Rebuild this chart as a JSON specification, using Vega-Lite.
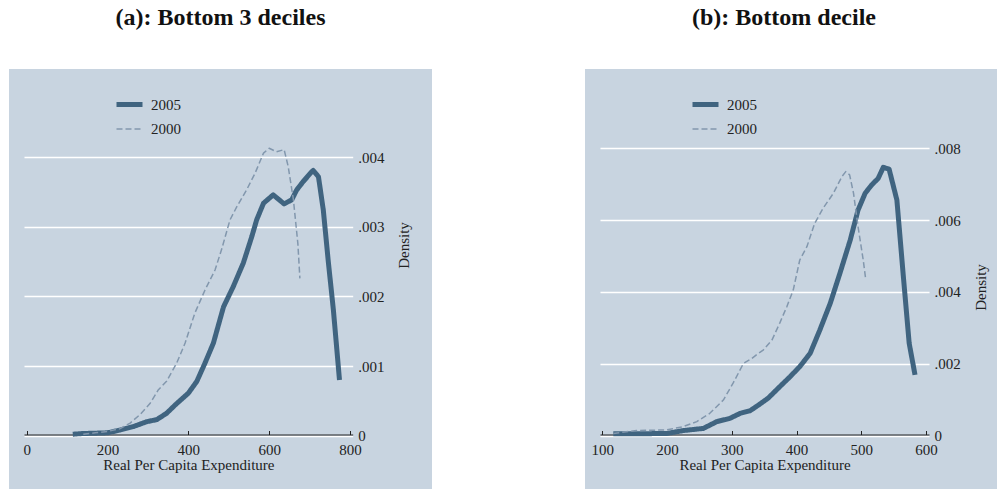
{
  "$schema": "https://vega.github.io/schema/vega-lite/v6.json",
  "padding": {"top": 6, "left": 9, "right": 0, "bottom": 0},
  "background": "white",
  "config": {
    "view": {"fill": "#c8d4e0", "stroke": null},
    "font": "Liberation Serif",
    "axis": {"labelFont": "Liberation Serif", "titleFont": "Liberation Serif", "labelFontSize": 15, "titleFontSize": 15, "titleFontWeight": "normal", "labelColor": "#222222", "titleColor": "#222222"},
    "legend": {"labelFont": "Liberation Serif", "labelFontSize": 15, "labelColor": "#222222"}
  },
  "datasets": {
    "a": [
      {"year": "2005", "x": 114, "density": 0.00002},
      {"year": "2005", "x": 140, "density": 0.00003},
      {"year": "2005", "x": 200, "density": 0.00004},
      {"year": "2005", "x": 231, "density": 0.00008},
      {"year": "2005", "x": 264, "density": 0.00013},
      {"year": "2005", "x": 297, "density": 0.0002},
      {"year": "2005", "x": 322, "density": 0.00023},
      {"year": "2005", "x": 346, "density": 0.00032},
      {"year": "2005", "x": 371, "density": 0.00046},
      {"year": "2005", "x": 400, "density": 0.00061},
      {"year": "2005", "x": 421, "density": 0.00078},
      {"year": "2005", "x": 441, "density": 0.00104},
      {"year": "2005", "x": 462, "density": 0.00133},
      {"year": "2005", "x": 487, "density": 0.00185},
      {"year": "2005", "x": 511, "density": 0.00214},
      {"year": "2005", "x": 536, "density": 0.00248},
      {"year": "2005", "x": 557, "density": 0.00286},
      {"year": "2005", "x": 569, "density": 0.0031},
      {"year": "2005", "x": 586, "density": 0.00334},
      {"year": "2005", "x": 610, "density": 0.00346},
      {"year": "2005", "x": 637, "density": 0.00333},
      {"year": "2005", "x": 656, "density": 0.00339},
      {"year": "2005", "x": 668, "density": 0.00353},
      {"year": "2005", "x": 684, "density": 0.00365},
      {"year": "2005", "x": 705, "density": 0.00379},
      {"year": "2005", "x": 709, "density": 0.00381},
      {"year": "2005", "x": 722, "density": 0.00372},
      {"year": "2005", "x": 734, "density": 0.00324},
      {"year": "2005", "x": 746, "density": 0.00252},
      {"year": "2005", "x": 759, "density": 0.0018},
      {"year": "2005", "x": 774, "density": 0.0008},
      {"year": "2000", "x": 140, "density": 0.00002},
      {"year": "2000", "x": 170, "density": 0.00004},
      {"year": "2000", "x": 200, "density": 0.00006},
      {"year": "2000", "x": 231, "density": 0.0001},
      {"year": "2000", "x": 256, "density": 0.00018},
      {"year": "2000", "x": 280, "density": 0.0003},
      {"year": "2000", "x": 305, "density": 0.00046},
      {"year": "2000", "x": 326, "density": 0.00066},
      {"year": "2000", "x": 346, "density": 0.00078},
      {"year": "2000", "x": 371, "density": 0.00104},
      {"year": "2000", "x": 392, "density": 0.00133},
      {"year": "2000", "x": 416, "density": 0.00176},
      {"year": "2000", "x": 441, "density": 0.00209},
      {"year": "2000", "x": 466, "density": 0.00238},
      {"year": "2000", "x": 482, "density": 0.00267},
      {"year": "2000", "x": 503, "density": 0.0031},
      {"year": "2000", "x": 520, "density": 0.00329},
      {"year": "2000", "x": 544, "density": 0.00353},
      {"year": "2000", "x": 565, "density": 0.00377},
      {"year": "2000", "x": 586, "density": 0.00406},
      {"year": "2000", "x": 600, "density": 0.00413},
      {"year": "2000", "x": 618, "density": 0.00408},
      {"year": "2000", "x": 637, "density": 0.00411},
      {"year": "2000", "x": 647, "density": 0.00387},
      {"year": "2000", "x": 660, "density": 0.00339},
      {"year": "2000", "x": 671, "density": 0.00276},
      {"year": "2000", "x": 676, "density": 0.00226}
    ],
    "b": [
      {"year": "2005", "x": 117, "density": 0.00005},
      {"year": "2005", "x": 153, "density": 0.00005},
      {"year": "2005", "x": 200, "density": 0.00006},
      {"year": "2005", "x": 225, "density": 0.00014},
      {"year": "2005", "x": 256, "density": 0.0002},
      {"year": "2005", "x": 277, "density": 0.00039},
      {"year": "2005", "x": 297, "density": 0.00048},
      {"year": "2005", "x": 313, "density": 0.00062},
      {"year": "2005", "x": 328, "density": 0.00069},
      {"year": "2005", "x": 338, "density": 0.00081},
      {"year": "2005", "x": 356, "density": 0.00104},
      {"year": "2005", "x": 374, "density": 0.00136},
      {"year": "2005", "x": 390, "density": 0.00164},
      {"year": "2005", "x": 405, "density": 0.00192},
      {"year": "2005", "x": 421, "density": 0.00229},
      {"year": "2005", "x": 436, "density": 0.00294},
      {"year": "2005", "x": 452, "density": 0.00368},
      {"year": "2005", "x": 467, "density": 0.00452},
      {"year": "2005", "x": 483, "density": 0.00545},
      {"year": "2005", "x": 495, "density": 0.00628},
      {"year": "2005", "x": 506, "density": 0.00675},
      {"year": "2005", "x": 516, "density": 0.00698},
      {"year": "2005", "x": 526, "density": 0.00716},
      {"year": "2005", "x": 534, "density": 0.00747},
      {"year": "2005", "x": 543, "density": 0.00742},
      {"year": "2005", "x": 555, "density": 0.00656},
      {"year": "2005", "x": 565, "density": 0.00443},
      {"year": "2005", "x": 574, "density": 0.00257},
      {"year": "2005", "x": 583, "density": 0.00169},
      {"year": "2000", "x": 117, "density": 0.00006},
      {"year": "2000", "x": 153, "density": 0.00014},
      {"year": "2000", "x": 200, "density": 0.00016},
      {"year": "2000", "x": 225, "density": 0.00025},
      {"year": "2000", "x": 246, "density": 0.00039},
      {"year": "2000", "x": 266, "density": 0.00062},
      {"year": "2000", "x": 287, "density": 0.00099},
      {"year": "2000", "x": 302, "density": 0.00146},
      {"year": "2000", "x": 318, "density": 0.00201},
      {"year": "2000", "x": 331, "density": 0.00215},
      {"year": "2000", "x": 338, "density": 0.00225},
      {"year": "2000", "x": 349, "density": 0.00239},
      {"year": "2000", "x": 362, "density": 0.00266},
      {"year": "2000", "x": 374, "density": 0.00313},
      {"year": "2000", "x": 385, "density": 0.00359},
      {"year": "2000", "x": 395, "density": 0.00406},
      {"year": "2000", "x": 405, "density": 0.00489},
      {"year": "2000", "x": 416, "density": 0.00526},
      {"year": "2000", "x": 428, "density": 0.00591},
      {"year": "2000", "x": 441, "density": 0.00633},
      {"year": "2000", "x": 457, "density": 0.00675},
      {"year": "2000", "x": 470, "density": 0.00721},
      {"year": "2000", "x": 476, "density": 0.00735},
      {"year": "2000", "x": 482, "density": 0.00726},
      {"year": "2000", "x": 488, "density": 0.00675},
      {"year": "2000", "x": 495, "density": 0.00582},
      {"year": "2000", "x": 503, "density": 0.00489},
      {"year": "2000", "x": 507, "density": 0.00433}
    ]
  },
  "spacing": 153,
  "resolve": {
    "scale": {"x": "independent", "y": "independent", "color": "independent", "strokeDash": "independent", "strokeWidth": "independent"},
    "legend": {"color": "independent", "strokeDash": "independent"}
  },
  "hconcat": [
    {
      "title": {"text": "(a): Bottom 3 deciles", "font": "Liberation Serif", "fontSize": 24, "fontWeight": "bold", "color": "#111111", "anchor": "middle", "offset": 39},
      "width": 423,
      "height": 420,
      "data": {"name": "a"},
      "mark": {"type": "line", "strokeCap": "butt", "strokeJoin": "round"},
      "encoding": {
        "x": {"field": "x", "type": "quantitative",
          "scale": {"domain": [-6.7, 806.7], "range": [15, 343.7], "nice": false, "zero": false},
          "axis": {"orient": "bottom", "offset": -54.5, "values": [0, 200, 400, 600, 800], "grid": false, "domain": true, "domainColor": "#222222", "domainWidth": 1, "ticks": true, "tickSize": -4, "tickColor": "#222222", "labelPadding": 12, "labelFlush": false, "title": "Real Per Capita Expenditure", "titlePadding": 0}},
        "y": {"field": "density", "type": "quantitative",
          "scale": {"domain": [0, 0.005269], "range": [366.6, 0], "nice": false, "zero": true},
          "axis": {"orient": "left", "offset": -343.7, "values": [0, 0.001, 0.002, 0.003, 0.004], "grid": true, "gridColor": "white", "gridWidth": 1.5, "gridOpacity": 1, "domain": false, "ticks": false, "labelPadding": -5, "labelAlign": "left", "labelBaseline": "middle", "labelFlush": false,
            "labelExpr": "datum.value == 0 ? '0' : replace(format(datum.value, '.3f'), '0.', '.')",
            "title": "Density", "titleAngle": 270, "titleX": 56, "titleY": 176, "titleAlign": "center", "titleBaseline": "alphabetic"}},
        "color": {"field": "year", "type": "nominal", "sort": ["2005", "2000"],
          "scale": {"domain": ["2005", "2000"], "range": ["#406480", "#8297ad"]},
          "legend": {"title": null, "orient": "none", "legendX": 105, "legendY": 20, "padding": 0, "symbolType": "stroke", "symbolSize": 676, "labelOffset": 6, "rowPadding": -4,
            "encode": {"symbols": {"update": {"strokeWidth": {"signal": "datum.value === '2005' ? 5 : 1.5"}}}}}},
        "strokeDash": {"field": "year", "type": "nominal", "sort": ["2005", "2000"],
          "scale": {"domain": ["2005", "2000"], "range": [[1, 0], [6, 3]]},
          "legend": {"title": null, "orient": "none", "legendX": 105, "legendY": 20, "padding": 0, "symbolType": "stroke", "symbolSize": 676, "labelOffset": 6, "rowPadding": -4,
            "encode": {"symbols": {"update": {"strokeWidth": {"signal": "datum.value === '2005' ? 5 : 1.5"}}}}}},
        "strokeWidth": {"field": "year", "type": "nominal",
          "scale": {"domain": ["2005", "2000"], "range": [5, 1.5]}, "legend": null}
      }
    },
    {
      "title": {"text": "(b): Bottom decile", "font": "Liberation Serif", "fontSize": 24, "fontWeight": "bold", "color": "#111111", "anchor": "middle", "offset": 39, "dx": -7},
      "width": 412,
      "height": 420,
      "data": {"name": "b"},
      "mark": {"type": "line", "strokeCap": "butt", "strokeJoin": "round"},
      "encoding": {
        "x": {"field": "x", "type": "quantitative",
          "scale": {"domain": [96.45, 604.6], "range": [15, 344], "nice": false, "zero": false},
          "axis": {"orient": "bottom", "offset": -54.5, "values": [100, 200, 300, 400, 500, 600], "grid": false, "domain": true, "domainColor": "#222222", "domainWidth": 1, "ticks": true, "tickSize": -4, "tickColor": "#222222", "labelPadding": 12, "labelFlush": false, "title": "Real Per Capita Expenditure", "titlePadding": 0}},
        "y": {"field": "density", "type": "quantitative",
          "scale": {"domain": [0, 0.010209], "range": [366.6, 0], "nice": false, "zero": true},
          "axis": {"orient": "left", "offset": -344, "values": [0, 0.002, 0.004, 0.006, 0.008], "grid": true, "gridColor": "white", "gridWidth": 1.5, "gridOpacity": 1, "domain": false, "ticks": false, "labelPadding": -5, "labelAlign": "left", "labelBaseline": "middle", "labelFlush": false,
            "labelExpr": "datum.value == 0 ? '0' : replace(format(datum.value, '.3f'), '0.', '.')",
            "title": "Density", "titleAngle": 270, "titleX": 56, "titleY": 218, "titleAlign": "center", "titleBaseline": "alphabetic"}},
        "color": {"field": "year", "type": "nominal", "sort": ["2005", "2000"],
          "scale": {"domain": ["2005", "2000"], "range": ["#406480", "#8297ad"]},
          "legend": {"title": null, "orient": "none", "legendX": 105, "legendY": 20, "padding": 0, "symbolType": "stroke", "symbolSize": 676, "labelOffset": 6, "rowPadding": -4,
            "encode": {"symbols": {"update": {"strokeWidth": {"signal": "datum.value === '2005' ? 5 : 1.5"}}}}}},
        "strokeDash": {"field": "year", "type": "nominal", "sort": ["2005", "2000"],
          "scale": {"domain": ["2005", "2000"], "range": [[1, 0], [6, 3]]},
          "legend": {"title": null, "orient": "none", "legendX": 105, "legendY": 20, "padding": 0, "symbolType": "stroke", "symbolSize": 676, "labelOffset": 6, "rowPadding": -4,
            "encode": {"symbols": {"update": {"strokeWidth": {"signal": "datum.value === '2005' ? 5 : 1.5"}}}}}},
        "strokeWidth": {"field": "year", "type": "nominal",
          "scale": {"domain": ["2005", "2000"], "range": [5, 1.5]}, "legend": null}
      }
    }
  ]
}
